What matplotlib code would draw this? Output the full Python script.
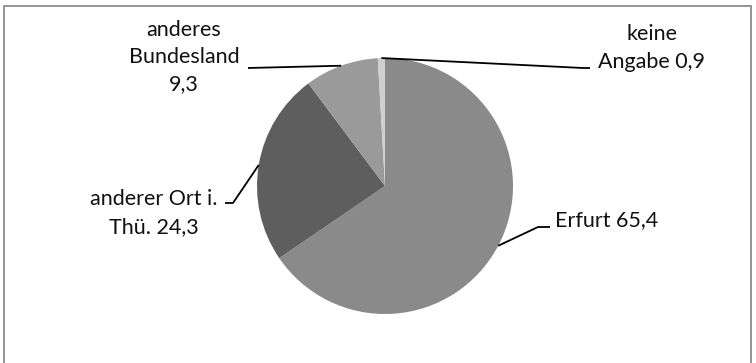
import numpy as np
import matplotlib
matplotlib.use("Agg")
import matplotlib.pyplot as plt
from matplotlib.patches import Rectangle

# Herkunft der Befragten (Anteile in Prozent)
categories = ["Erfurt", "anderer Ort i. Thü.", "anderes Bundesland", "keine Angabe"]
values = [65.4, 24.3, 9.3, 0.9]
label_texts = ["Erfurt 65,4", "anderer Ort i.\nThü. 24,3", "anderes\nBundesland\n9,3", "keine\nAngabe 0,9"]
colors = ["#8a8a8a", "#5e5e5e", "#9a9a9a", "#cfcfcf"]

W, H = 756, 363
fig = plt.figure(figsize=(W / 100, H / 100), dpi=100)
ax = fig.add_axes([0, 0, 1, 1])

cx, cy, R = 385, H - 186, 128
wedges, _ = ax.pie(values, colors=colors, startangle=90, counterclock=False,
                   center=(cx, cy), radius=R, frame=True,
                   wedgeprops=dict(linewidth=0))
ax.set_xlim(0, W)
ax.set_ylim(0, H)
ax.set_aspect("equal")
ax.axis("off")

font = dict(family=["Lato", "DejaVu Sans"], fontsize=15.5, color="#111111")

# label anchor text positions (x, y from top) and leader elbow points
layout = [
    dict(text=(555, 220), ha="left", elbow=[(538, 227), (550, 227)]),
    dict(text=(154, 213), ha="center", elbow=[(233, 203), (225, 203)]),
    dict(text=(184, 57), ha="center", elbow=[(248, 68)]),
    dict(text=(652, 48), ha="center", elbow=[(583, 68), (590, 68)]),
]

for w, lab, lay in zip(wedges, label_texts, layout):
    ang = np.deg2rad((w.theta1 + w.theta2) / 2)
    x0 = cx + R * np.cos(ang)
    y0 = cy + R * np.sin(ang)
    xs = [x0] + [p[0] for p in lay["elbow"]]
    ys = [y0] + [H - p[1] for p in lay["elbow"]]
    ax.plot(xs, ys, color="black", linewidth=1.3, solid_capstyle="butt")
    tx, ty = lay["text"]
    ax.text(tx, H - ty, lab, ha=lay["ha"], va="center", linespacing=1.45,
            multialignment="center", **font)

# chart frame
fig.patches.append(Rectangle((4 / W, -0.05), (751 - 4) / W, 1.05 - 6 / H,
                             transform=fig.transFigure, fill=False,
                             edgecolor="#8c8c8c", linewidth=1.3))

fig.savefig("out.png", dpi=100)
